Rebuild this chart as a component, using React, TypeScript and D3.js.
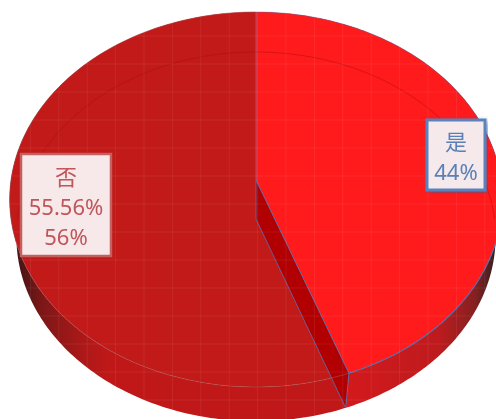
import React from "react";
import * as d3 from "d3";

const categories = ["是", "否"];
const seriesValues = [44.44, 55.56];
const boxLabels = [
  { lines: ["是", "44%"], x: 427, y: 120, w: 58, h: 70, stroke: "#5A83BE", text: "#5B80B6", fill: "#F5E9EC", shadow: true },
  { lines: ["否", "55.56%", "56%"], x: 21, y: 154, w: 90, h: 102, stroke: "#C4605F", text: "#C0565A", fill: "#F7E8E9", shadow: false },
];
const gridXs = d3.range(2, 496, 28.4);
const gridYs = d3.range(8, 419, 28);

// projective view of the pie disc (a circle seen in perspective)
const topFace = { k: 245, a: -166.75, b: 180, c: 0.104 };
const baseFace = { k: 238.5, a: -162, b: 219, c: 0.0956 };
const cx = 256;
type Face = typeof topFace;
const project = (f: Face, angle: number, r = 1): [number, number] => {
  const u = Math.sin(angle) * r;
  const v = Math.cos(angle) * r;
  const w = 1 + f.c * v;
  return [cx + (f.k * u) / w, (f.a * v + f.b) / w];
};
const arcPts = (f: Face, a0: number, a1: number): [number, number][] =>
  d3.range(0, 181).map((i) => project(f, a0 + ((a1 - a0) * i) / 180));

const line = d3.line();

export default function App() {
  const arcs = d3.pie<number>().sort(null)(seriesValues);
  const [yes, no] = arcs;
  const centerTop = project(topFace, 0, 0);
  const centerBase = project(baseFace, 0, 0);
  const yesTop = arcPts(topFace, yes.startAngle, yes.endAngle);
  const noTop = arcPts(topFace, no.startAngle, no.endAngle);
  const yesBase = arcPts(baseFace, yes.startAngle, yes.endAngle);
  const noBase = arcPts(baseFace, no.startAngle, no.endAngle);
  const split = yes.endAngle;
  const rimTop = project(topFace, split);
  const rimBase = project(baseFace, split);
  const backGhost = arcPts(baseFace, -Math.PI * 0.5, Math.PI * 0.5);
  const yesRimUpper = arcPts(topFace, yes.startAngle, Math.PI * 0.5);
  const yesRimLower = arcPts(topFace, Math.PI * 0.5, yes.endAngle);

  return (
    <svg
      width={496}
      height={419}
      viewBox="0 0 496 419"
      style={{ position: "fixed", left: 0, top: 0, display: "block" }}
      aria-label={categories.join(" / ")}
    >
      <defs>
        <linearGradient id="sideNo" gradientUnits="userSpaceOnUse" x1={14} x2={110} y1={0} y2={0}>
          <stop offset="0" stopColor="#3E1414" />
          <stop offset="0.3" stopColor="#7E1717" />
          <stop offset="0.75" stopColor="#B01818" />
          <stop offset="1" stopColor="#C01818" />
        </linearGradient>
        <linearGradient id="sideYes" gradientUnits="userSpaceOnUse" x1={350} x2={497} y1={0} y2={0}>
          <stop offset="0" stopColor="#D2191C" />
          <stop offset="0.6" stopColor="#BE1B1E" />
          <stop offset="0.85" stopColor="#862020" />
          <stop offset="1" stopColor="#2E2020" />
        </linearGradient>
        <filter id="boxShadow" x="-30%" y="-30%" width="160%" height="160%">
          <feDropShadow dx="3" dy="3" stdDeviation="3" floodColor="#3A5E96" floodOpacity="0.6" />
        </filter>
        <filter id="soft" x="-5%" y="-5%" width="110%" height="110%">
          <feGaussianBlur stdDeviation="0.3" />
        </filter>
      </defs>

      {/* sides */}
      <path d={line([...noTop, ...[...noBase].reverse()])! + "Z"} fill="url(#sideNo)" />
      <path d={line([...yesTop, ...[...yesBase].reverse()])! + "Z"} fill="url(#sideYes)" />

      {/* top faces */}
      <path d={line([centerTop, ...noTop])! + "Z"} fill="#C21919" />
      <path d={line([centerTop, ...yesTop])! + "Z"} fill="#FF1A1C" />

      {/* see-through back rim of the base */}
      <path d={line(backGhost)!} fill="none" stroke="#A80C0C" strokeOpacity={0.45} strokeWidth={1} />

      {/* cut wall */}
      <path d={line([centerTop, rimTop, rimBase, centerBase])! + "Z"} fill="#B20002" />
      <path d={line([centerTop, rimTop])!} fill="none" stroke="#5F6BA6" strokeWidth={1} />
      <path d={line([rimTop, rimBase, centerBase, centerTop])!} fill="none" stroke="#5F6BA6" strokeWidth={1} strokeOpacity={0.85} />

      {/* rims */}
      <path d={line(noTop)!} fill="none" stroke="#A85050" strokeOpacity={0.6} strokeWidth={1} />
      <path d={line(yesRimUpper)!} fill="none" stroke="#5F6BA6" strokeOpacity={0.45} strokeWidth={1} />
      <path d={line(yesRimLower)!} fill="none" stroke="#5F6BA6" strokeWidth={1.2} />
      <path d={line([[cx, 12], centerTop])!} fill="none" stroke="#7C6E9E" strokeOpacity={0.8} strokeWidth={1} />

      {/* faint grid */}
      <g stroke="#FFFFFF" strokeOpacity={0.07} strokeWidth={1}>
        {gridXs.map((x) => (
          <line key={`v${x}`} x1={x} x2={x} y1={0} y2={419} />
        ))}
        {gridYs.map((y) => (
          <line key={`h${y}`} x1={0} x2={496} y1={y} y2={y} />
        ))}
      </g>

      {/* labels */}
      {boxLabels.map((b) => (
        <g key={b.lines[0]} filter="url(#soft)">
          <rect
            x={b.x}
            y={b.y}
            width={b.w}
            height={b.h}
            fill={b.fill}
            stroke={b.stroke}
            strokeWidth={b.shadow ? 3 : 2.5}
            filter={b.shadow ? "url(#boxShadow)" : undefined}
          />
          {b.lines.map((t, i) => (
            <text
              key={t}
              x={b.x + b.w / 2}
              y={b.y + (b.shadow ? 30 : 30.5) + i * 30}
              textAnchor="middle"
              fontSize={22}
              fill={b.text}
              fontFamily={'"Noto Sans","Noto Sans CJK SC",sans-serif'}
            >
              {t}
            </text>
          ))}
        </g>
      ))}
    </svg>
  );
}
